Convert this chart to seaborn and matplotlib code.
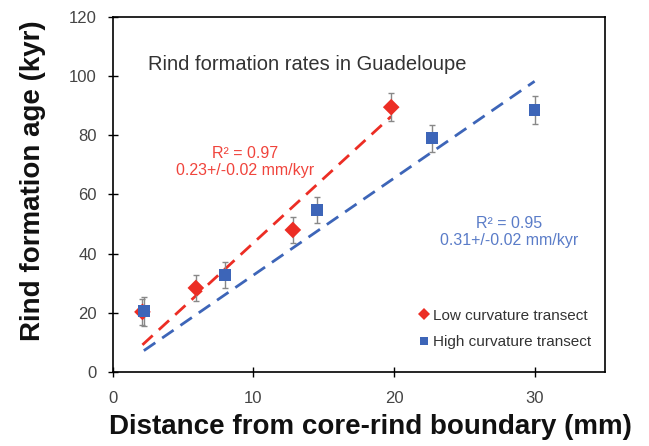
import numpy as np
import pandas as pd
import matplotlib
matplotlib.use("Agg")
import matplotlib.pyplot as plt
import seaborn as sns

# --- data ---
low_dist = [2.1, 5.9, 12.8, 19.8]
low_age = [20.3, 28.4, 48.0, 89.5]
low_err = [4.5, 4.5, 4.5, 4.7]

high_dist = [2.2, 8.0, 14.5, 22.7, 30.0]
high_age = [20.5, 32.8, 54.7, 79.0, 88.5]
high_err = [4.8, 4.5, 4.5, 4.5, 4.8]

RED = "#ec2d24"
BLUE = "#3d65b8"
RED_TXT = "#f0443c"
BLUE_TXT = "#5a7cc8"

sns.set_theme(style="white")
plt.rcParams["font.family"] = ["Liberation Sans", "DejaVu Sans"]

df = pd.DataFrame({
    "dist": low_dist + high_dist,
    "age": low_age + high_age,
    "series": ["Low curvature transect"] * len(low_dist)
              + ["High curvature transect"] * len(high_dist),
})

fig = plt.figure(figsize=(6.49, 4.46), dpi=100)
ax = fig.add_axes([0.174, 0.166, 0.758, 0.796])


def origin_fit(x, y):
    # regression forced through the origin
    x = np.asarray(x)
    y = np.asarray(y)
    slope = (x * y).sum() / (x * x).sum()
    xs = np.array([x.min(), x.max()])
    return xs, slope * xs


for xs, ys, c in [(low_dist, low_age, RED), (high_dist, high_age, BLUE)]:
    fx, fy = origin_fit(xs, ys)
    ax.plot(fx, fy, linestyle=(0, (5, 3)), color=c, lw=2, zorder=2)

ax.errorbar(low_dist, low_age, yerr=low_err, fmt="none", ecolor="#888888",
            elinewidth=1, capsize=2, capthick=1, zorder=3)
ax.errorbar(high_dist, high_age, yerr=high_err, fmt="none", ecolor="#888888",
            elinewidth=1, capsize=2, capthick=1, zorder=3)

sns.scatterplot(data=df, x="dist", y="age", hue="series", style="series",
                palette={"Low curvature transect": RED, "High curvature transect": BLUE},
                markers={"Low curvature transect": "D", "High curvature transect": "s"},
                s=72, edgecolor="none", linewidth=0, ax=ax, zorder=4)

ax.set_xlim(0, 35)
ax.set_ylim(0, 120)
ax.set_xticks([0, 10, 20, 30])
ax.set_yticks(range(0, 121, 20))
for s in ax.spines.values():
    s.set_color("black")
    s.set_linewidth(1.2)
ax.tick_params(axis="both", which="major", direction="inout", length=7, width=1,
               color="black", labelsize=12, labelcolor="#444444",
               bottom=True, left=True)
ax.tick_params(axis="x", pad=10)
ax.tick_params(axis="y", pad=8)

ax.set_xlabel("Distance from core-rind boundary (mm)", fontsize=20,
              fontweight="bold", color="#111111")
ax.set_ylabel("Rind formation age (kyr)", fontsize=20,
              fontweight="bold", color="#111111")
ax.xaxis.set_label_coords(0.524, -0.118)
ax.yaxis.set_label_coords(-0.136, 0.54)

ax.text(2.5, 104, "Rind formation rates in Guadeloupe", fontsize=14.5,
        color="#333333", ha="left", va="center")
ax.text(9.4, 71, "R² = 0.97\n0.23+/-0.02 mm/kyr", fontsize=11.5,
        color=RED_TXT, ha="center", va="center", linespacing=1.1)
ax.text(28.2, 47.3, "R² = 0.95\n0.31+/-0.02 mm/kyr", fontsize=11.5,
        color=BLUE_TXT, ha="center", va="center", linespacing=1.1)

leg = ax.legend(loc="lower right", bbox_to_anchor=(1.0, 0.026), frameon=False,
                fontsize=11, handletextpad=0.1, labelspacing=0.8,
                markerscale=0.7, handlelength=1.0, labelcolor="#333333")

fig.savefig("out.png", dpi=100, facecolor="white")
